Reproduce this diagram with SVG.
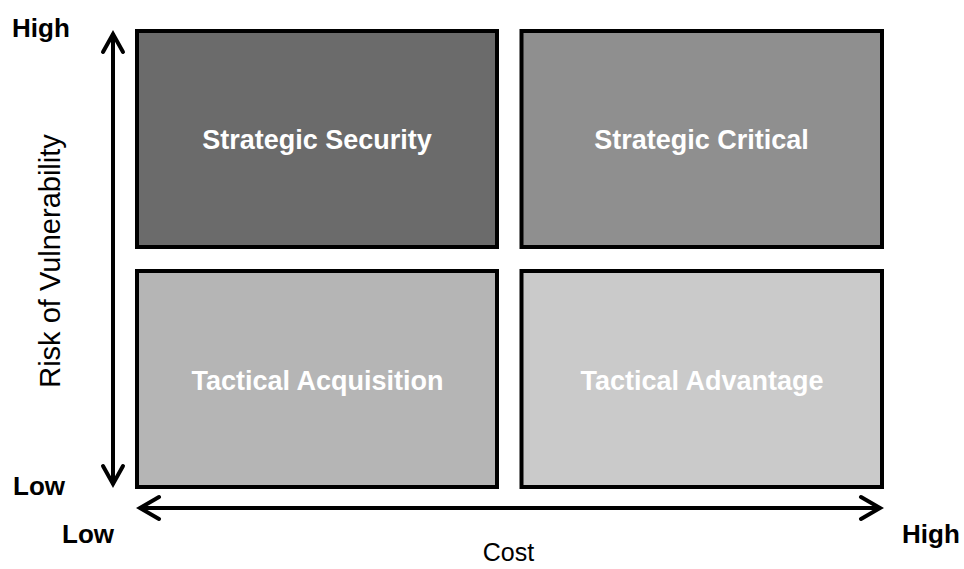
<svg xmlns="http://www.w3.org/2000/svg" width="964" height="569" viewBox="0 0 964 569">
  <style>
    .box { stroke: #000; stroke-width: 4; }
    .lbl { font-family: "Liberation Sans", Arial, sans-serif; font-weight: bold; font-size: 27px; fill: #ffffff; text-anchor: middle; }
    .ax { font-family: "Liberation Sans", Arial, sans-serif; font-weight: bold; font-size: 26px; fill: #000; }
    .title { font-family: "Liberation Sans", Arial, sans-serif; font-size: 26px; fill: #000; text-anchor: middle; }
    .arrow { fill: none; stroke: #000; stroke-width: 4; stroke-linecap: round; stroke-linejoin: miter; }
  </style>
  <rect width="964" height="569" fill="#ffffff"/>

  <g id="strategic-security">
    <rect class="box" x="137" y="31" width="360" height="216" fill="#6b6b6b"/>
    <text class="lbl" x="317" y="149">Strategic Security</text>
  </g>
  <g id="strategic-critical">
    <rect class="box" x="521.5" y="31" width="360.5" height="216" fill="#8f8f8f"/>
    <text class="lbl" x="701.5" y="149">Strategic Critical</text>
  </g>
  <g id="tactical-acquisition">
    <rect class="box" x="137" y="271" width="360" height="216" fill="#b5b5b5"/>
    <text class="lbl" x="317.5" y="390">Tactical Acquisition</text>
  </g>
  <g id="tactical-advantage">
    <rect class="box" x="521.5" y="271" width="360.5" height="216" fill="#cacaca"/>
    <text class="lbl" x="702" y="390">Tactical Advantage</text>
  </g>

  <g id="connectors">
    <path class="arrow" d="M113 35 L113 483"/>
    <path class="arrow" d="M103 52 L113 34 L123 52"/>
    <path class="arrow" d="M103 466 L113 484 L123 466"/>
    <path class="arrow" d="M141 508 L879 508"/>
    <path class="arrow" d="M159 497 L140 508 L159 519"/>
    <path class="arrow" d="M861 497 L880 508 L861 519"/>
  </g>

  <g id="axis-labels">
    <text class="ax" x="12" y="37">High</text>
    <text class="ax" x="13" y="495">Low</text>
    <text class="ax" x="62" y="543">Low</text>
    <text class="ax" x="902" y="543">High</text>
    <text class="title" x="508.5" y="561" style="font-size:25px">Cost</text>
    <text class="title" transform="translate(60 261) rotate(-90)" x="0" y="0" style="font-size:29px">Risk of Vulnerability</text>
  </g>
</svg>
